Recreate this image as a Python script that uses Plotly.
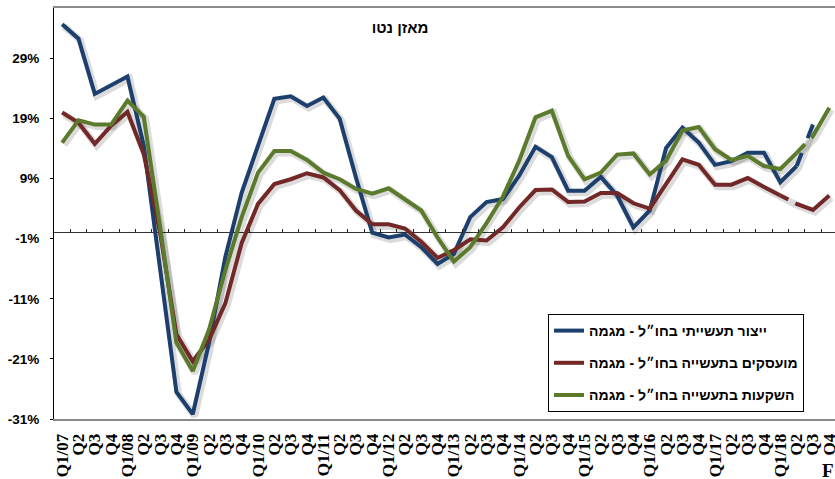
import plotly.graph_objects as go

years = ["07", "08", "09", "10", "11", "12", "13", "14", "15", "16", "17", "18"]
quarter_labels = []
for yy in years:
    quarter_labels += ["Q1/" + yy, "Q2", "Q3", "Q4"]

series_names = [
    "ייצור תעשייתי בחו״ל - מגמה",
    "מועסקים בתעשייה בחו״ל - מגמה",
    "השקעות בתעשייה בחו״ל - מגמה",
]

production = [34.7, 32.3, 23.1, 24.5, 26.0, 14.5, -5.5, -26.5, -30.2, -18.3, -4.0, 6.7,
              14.5, 22.3, 22.7, 21.1, 22.5, 19.0, 9.2, 0.0, -0.8, -0.3, -2.4, -5.2,
              -3.5, 2.6, 5.1, 5.6, 9.5, 14.3, 12.6, 7.0, 7.0, 9.3, 6.2, 0.9,
              3.7, 14.1, 17.5, 15.0, 11.3, 11.9, 13.3, 13.3, 8.4, 11.1, 18.0, None]

employment = [20.0, 18.3, 14.8, 17.8, 20.1, 13.1, 0.0, -16.9, -21.4, -17.8, -11.7, -1.7,
              4.8, 8.1, 8.9, 9.9, 9.2, 7.1, 3.7, 1.4, 1.4, 0.7, -1.5, -4.2,
              -2.9, -1.1, -1.3, 0.9, 4.2, 7.1, 7.2, 5.1, 5.2, 6.6, 6.6, 4.9,
              4.0, 8.1, 12.2, 11.3, 8.0, 8.0, 9.1, 7.6, 6.2, 4.8, 3.8, 6.2]

investment = [15.0, 18.7, 18.0, 18.0, 22.0, 19.3, 1.0, -18.3, -23.0, -16.1, -6.2, 2.6,
              10.0, 13.6, 13.6, 12.1, 10.0, 8.9, 7.3, 6.5, 7.4, 5.5, 3.7, -0.8,
              -4.8, -2.4, 1.6, 6.0, 12.0, 19.2, 20.3, 12.8, 8.9, 10.0, 13.0, 13.2,
              9.7, 12.0, 17.0, 17.6, 13.9, 12.1, 12.8, 11.1, 10.6, 13.3, 16.1, 20.8]

# index where the trend (forecast) segment starts for each series
forecast_start = [45, 44, 45]

ytick_vals = [-31, -21, -11, -1, 9, 19, 29]
ytick_text = ["-31%", "-21%", "-11%", "-1%", "9%", "19%", "29%"]

colors = ["#1C3F6E", "#722826", "#5B7A2B"]
gap_dash = ["14px,16px,2000px", "9px,8px,2000px", "12px,9px,2000px"]

SANS = "Liberation Sans, Arial, sans-serif"
SERIF = "Liberation Serif, Times New Roman, serif"

x_idx = list(range(len(quarter_labels)))
all_series = [production, employment, investment]

fig = go.Figure()

# soft shadow under the lines
for vals in all_series:
    fig.add_trace(go.Scatter(
        x=[i + 0.12 for i in x_idx], y=[v - 0.35 if v is not None else None for v in vals],
        mode="lines", line=dict(color="rgba(0,0,0,0.14)", width=7),
        hoverinfo="skip", showlegend=False, connectgaps=False))

for k, vals in enumerate(all_series):
    s = forecast_start[k]
    fig.add_trace(go.Scatter(
        x=x_idx[: s + 1], y=vals[: s + 1], mode="lines", name=series_names[k],
        line=dict(color=colors[k], width=4), legendgroup=str(k), showlegend=True))
    fig.add_trace(go.Scatter(
        x=x_idx[s:], y=vals[s:], mode="lines",
        line=dict(color=colors[k], width=4, dash=gap_dash[k]),
        legendgroup=str(k), showlegend=False, connectgaps=False))

# plot-area geometry
W, H = 835, 479
ml, mr, mt, mb = 54, 0, 8, 60
y_lo, y_hi = -31.0, 37.4
zero_pos = (0 - y_lo) / (y_hi - y_lo)
pw, ph = W - ml - mr, H - mt - mb

fig.update_layout(
    width=W, height=H,
    margin=dict(l=ml, r=mr, t=mt, b=mb),
    paper_bgcolor="white", plot_bgcolor="white",
    template="none",
    font=dict(family=SANS, color="black"),
    title=dict(text="מאזן נטו", x=400 / W, xanchor="center",
               y=1 - 28 / H, yanchor="middle",
               font=dict(size=15, family=SANS, color="black", weight="bold")),
    xaxis=dict(
        range=[-0.5, 47.35], tickmode="array", tickvals=x_idx, ticktext=quarter_labels,
        tickangle=-90, ticks="", showgrid=False, zeroline=False,
        showline=True, linecolor="#8a8a8a", linewidth=2, mirror=True,
        tickfont=dict(family=SERIF, size=17, color="black", weight="bold"),
        ticklabelstandoff=6, ticklabeloverflow="allow", automargin=False),
    xaxis2=dict(
        overlaying="x", anchor="free", position=zero_pos, side="bottom",
        range=[-0.5, 47.35], tickmode="array", tickvals=[i + 0.5 for i in x_idx[:-1]],
        ticks="inside", ticklen=4, tickcolor="#222222", tickwidth=1,
        showticklabels=False, showgrid=False, zeroline=False, showline=False,
        automargin=False),
    yaxis=dict(
        range=[y_lo, y_hi], tickmode="array", tickvals=ytick_vals, ticktext=ytick_text,
        ticks="outside", ticklen=3, tickcolor="black", showgrid=False,
        zeroline=True, zerolinecolor="#333333", zerolinewidth=1,
        showline=True, linecolor="black", linewidth=1,
        tickfont=dict(size=13.5, family=SANS, color="black", weight="bold"),
        ticklabelstandoff=8, automargin=False),
    legend=dict(
        x=(548 - ml) / pw, y=(H - mb - 314) / ph,
        xanchor="left", yanchor="top",
        bgcolor="white", bordercolor="black", borderwidth=1,
        font=dict(size=14, family=SANS, color="black", weight="bold"),
        tracegroupgap=11, traceorder="grouped", itemwidth=30),
    showlegend=True,
)

# dummy trace on xaxis2 so the axis is drawn
fig.add_trace(go.Scatter(x=[0], y=[None], xaxis="x2", showlegend=False, hoverinfo="skip"))

fig.add_annotation(text="F", xref="paper", yref="paper",
                   x=(828 - ml) / pw, y=-(470 - (H - mb)) / ph,
                   showarrow=False, xanchor="center", yanchor="middle",
                   font=dict(family=SERIF, size=19, color="black", weight="bold"))

fig.write_html(
    "out.html",
    config={"displayModeBar": False},
    post_script="document.body.style.margin='0px';document.body.style.padding='0px';"
                "document.documentElement.style.overflow='hidden';document.body.style.overflow='hidden';")
